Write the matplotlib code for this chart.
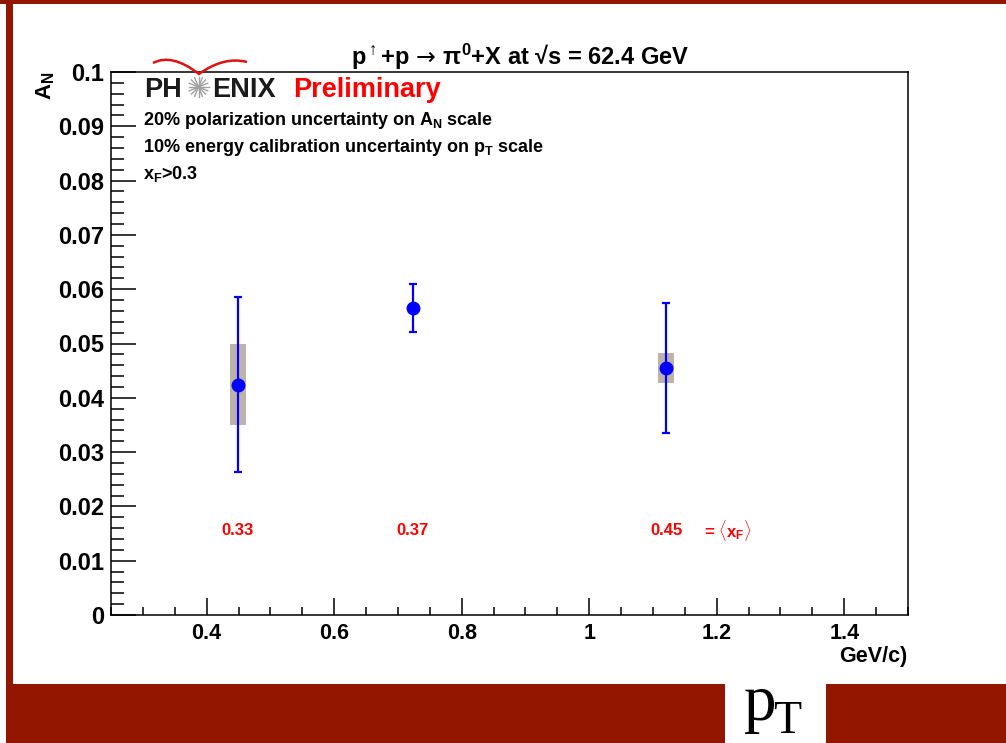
"""
PHENIX A_N vs pT slide, redrawn with matplotlib
"""

import numpy as np
import matplotlib
matplotlib.use("Agg")
from matplotlib import pyplot as plt
from matplotlib.patches import Rectangle
from matplotlib.path import Path
from matplotlib.patches import PathPatch
from matplotlib.ticker import MultipleLocator, FormatStrFormatter

# data
pt = [0.449, 0.723, 1.121]
an = [0.0424, 0.0566, 0.0455]
an_stat = [0.0161, 0.0044, 0.0120]
an_sys = [0.0075, 0.0, 0.0028]
xf_labels = ["0.33", "0.37", "0.45"]

SLIDE_RED = "#931600"
BOX_GRAY = "#bdb3a9"
W, H = 1006, 743

plt.rcParams["font.family"] = ["Liberation Sans", "DejaVu Sans"]
plt.rcParams["font.weight"] = "bold"
plt.rcParams["mathtext.fontset"] = "custom"
plt.rcParams["mathtext.rm"] = "Liberation Sans:bold"
plt.rcParams["mathtext.it"] = "Liberation Sans:bold"
plt.rcParams["mathtext.bf"] = "Liberation Sans:bold"
plt.rcParams["mathtext.sf"] = "Liberation Sans:bold"


def fx(x):
    return x / W


def fy(y):
    return 1 - y / H


def centered_title(fig, xc, yb, parts, gap=6):
    """parts: list of (text, kwargs); laid out left to right on one baseline"""
    texts = [fig.text(0, fy(yb), s, va="baseline", ha="left", **kw)
             for s, kw in parts]
    fig.canvas.draw()
    r = fig.canvas.get_renderer()
    widths = [t.get_window_extent(r).width for t in texts]
    total = sum(widths) + gap * (len(texts) - 1)
    x = xc - total / 2
    for t, w in zip(texts, widths):
        t.set_x(fx(x))
        x += w + gap


def main():
    fig = plt.figure(figsize=(W / 100, H / 100), dpi=100)
    fig.patch.set_facecolor("white")

    ax = fig.add_axes([fx(111), fy(615), fx(908) - fx(111), fy(72) - fy(615)])

    # systematic boxes
    half_w = 0.0125
    for x, y, s in zip(pt, an, an_sys):
        if s > 0:
            ax.add_patch(Rectangle((x - half_w, y - s), 2 * half_w, 2 * s,
                                   facecolor=BOX_GRAY, edgecolor="none", zorder=2))

    ax.errorbar(pt, an, yerr=an_stat, fmt="o", color="#0000ff", ms=9,
                elinewidth=1.6, capsize=3.2, capthick=1.6, zorder=3)

    # <xF> labels under each point
    for x, lab in zip(pt, xf_labels):
        ax.text(x, 0.0155, lab, color="#ff0000", fontsize=12, ha="center",
                va="center", fontweight="bold")
    ax.annotate(r"= $\langle$x$_{\rm F}$$\rangle$", xy=(pt[-1], 0.0155),
                xytext=(27, 0), textcoords="offset points", color="#ff0000",
                fontsize=12, ha="left", va="center")

    ax.set_xlim(0.25, 1.5)
    ax.set_ylim(0, 0.1)
    ax.xaxis.set_major_locator(MultipleLocator(0.2))
    ax.xaxis.set_minor_locator(MultipleLocator(0.05))
    ax.yaxis.set_major_locator(MultipleLocator(0.01))
    ax.yaxis.set_minor_locator(MultipleLocator(0.002))
    ax.xaxis.set_major_formatter(FormatStrFormatter("%g"))
    ax.yaxis.set_major_formatter(FormatStrFormatter("%g"))

    ax.tick_params(which="both", direction="in", top=False, right=False, width=1.1)
    ax.tick_params(axis="y", which="major", length=18, labelsize=17, pad=5)
    ax.tick_params(axis="y", which="minor", length=9.5)
    ax.tick_params(axis="x", which="major", length=12, labelsize=15.5, pad=6)
    ax.tick_params(axis="x", which="minor", length=6)
    for lab in ax.get_xticklabels() + ax.get_yticklabels():
        lab.set_fontweight("bold")
    for sp in ax.spines.values():
        sp.set_linewidth(1.1)

    # title and axis labels
    centered_title(fig, 520, 65, [
        (r"p$^{\uparrow}$+p", dict(fontsize=17)),
        ("\u2192", dict(fontsize=17, family="DejaVu Sans", fontweight="normal")),
        (r"$\pi^{0}$+X at " + "\u221as = 62.4 GeV", dict(fontsize=17)),
    ])
    fig.text(fx(46), fy(86), r"A$_{\rm N}$", fontsize=16, rotation=90,
             ha="center", va="center")
    fig.text(fx(907), fy(662), "GeV/c)", fontsize=15.5, ha="right", va="baseline")

    # PHENIX Preliminary logo
    fig.text(fx(144), fy(97), "PH", fontsize=19.5, ha="left", va="baseline",
             color="#1a1a1a")
    fig.text(fx(212), fy(97), "ENIX", fontsize=19.5, ha="left", va="baseline",
             color="#1a1a1a")
    fig.text(fx(293), fy(97), "Preliminary", fontsize=19.5, ha="left",
             va="baseline", color="#ff0000")
    cx, cy, r = 198.5, 87, 10
    for ang in np.arange(0, np.pi, np.pi / 8):
        fig.add_artist(plt.Line2D(
            [fx(cx - r * np.cos(ang)), fx(cx + r * np.cos(ang))],
            [fy(cy - r * np.sin(ang)), fy(cy + r * np.sin(ang))],
            color="#a0a0a0", lw=1.0, transform=fig.transFigure))
    verts = [(153, 63), (172, 53), (199, 74), (224, 56), (247, 62)]
    codes = [Path.MOVETO, Path.CURVE3, Path.CURVE3, Path.CURVE3, Path.CURVE3]
    arc = Path([(fx(a), fy(b)) for a, b in verts], codes)
    fig.add_artist(PathPatch(arc, facecolor="none", edgecolor="#e01010",
                             lw=1.8, transform=fig.transFigure))

    # note lines
    fig.text(fx(143), fy(125), r"20% polarization uncertainty on A$_{\rm N}$ scale",
             fontsize=13, ha="left", va="baseline")
    fig.text(fx(143), fy(152), r"10% energy calibration uncertainty on p$_{\rm T}$ scale",
             fontsize=13, ha="left", va="baseline")
    fig.text(fx(143), fy(179), r"x$_{\rm F}$>0.3", fontsize=13, ha="left",
             va="baseline")

    # slide frame
    fig.add_artist(Rectangle((0, fy(4)), 1, 4 / H, facecolor=SLIDE_RED,
                             edgecolor="none", transform=fig.transFigure))
    fig.add_artist(Rectangle((fx(6), fy(684)), fx(7), 684 / H,
                             facecolor=SLIDE_RED, edgecolor="none",
                             transform=fig.transFigure))
    fig.add_artist(Rectangle((fx(6), 0), fx(719), fy(684), facecolor=SLIDE_RED,
                             edgecolor="none", transform=fig.transFigure))
    fig.add_artist(Rectangle((fx(826), 0), 1 - fx(826), fy(684),
                             facecolor=SLIDE_RED, edgecolor="none",
                             transform=fig.transFigure))
    fig.text(fx(744), fy(720), "p", family="Liberation Serif", fontweight="normal",
             fontsize=47, ha="left", va="baseline")
    fig.text(fx(773), fy(733), "T", family="Liberation Serif", fontweight="normal",
             fontsize=33, ha="left", va="baseline")

    fig.savefig("out.png", dpi=100)


if __name__ == "__main__":
    main()
